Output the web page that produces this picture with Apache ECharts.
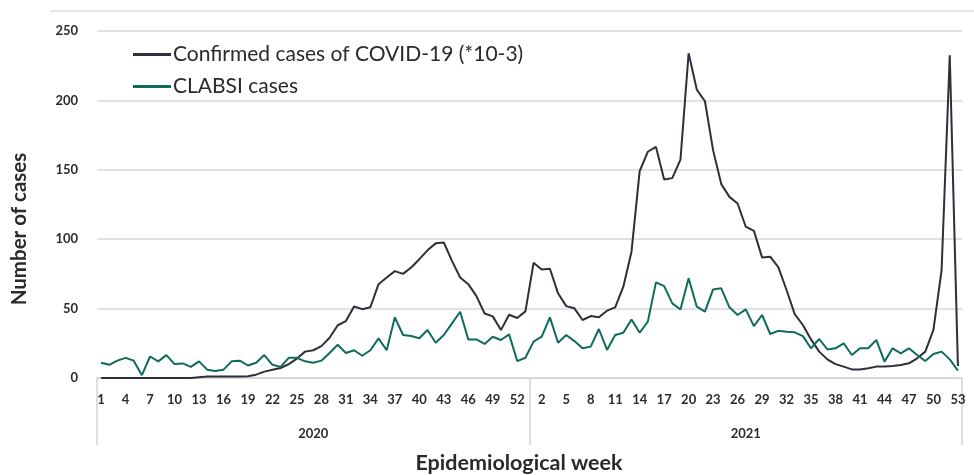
<!DOCTYPE html>
<html>
<head>
<meta charset="utf-8">
<script src="https://cdn.jsdelivr.net/npm/echarts@6/dist/echarts.min.js"></script>
<style>
html,body{margin:0;padding:0;background:#fff;}
#chart{width:974px;height:475px;}
</style>
</head>
<body>
<div id="chart"></div>
<script>
var years = ['2020', '2021'];
var weeks2020 = [1,2,3,4,5,6,7,8,9,10,11,12,13,14,15,16,17,18,19,20,21,22,23,24,25,26,27,28,29,30,31,32,33,34,35,36,37,38,39,40,41,42,43,44,45,46,47,48,49,50,51,52,53];
var weeks2021 = [1,2,3,4,5,6,7,8,9,10,11,12,13,14,15,16,17,18,19,20,21,22,23,24,25,26,27,28,29,30,31,32,33,34,35,36,37,38,39,40,41,42,43,44,45,46,47,48,49,50,51,52,53];

var confirmed2020 = [0,0,0,0,0,0,0,0,0,0,0,0,0.5,1,1,1,1,1,1.2,2.4,4.6,6,7.2,10,14,19,20,23,29,38,41,51.5,49.6,51,67.6,72.4,77,75,79.6,85.6,92,97,97.6,84.4,72.4,67.6,59,46.5,44.4,34.5,45.6,43.2,48];
var confirmed2021 = [83,78.2,78.7,61,51.8,50.2,41.8,44.6,43.7,48.5,50.9,65.8,91,149,163,166.5,143,144,157.4,234,207.8,199.4,164,139.7,130.5,125.7,109,106,86.9,87.4,79.7,63.4,46,38.2,27.8,19,13.4,10,8.2,6.2,6.2,7,8.2,8.2,8.6,9.4,10.6,14.2,19,34.6,77.8,232.5,8.6];

var clabsi2020 = [11,9.5,12.5,14.5,12.5,2,15.5,12,16.5,10,10.5,8,12,6,5,6,12,12.5,9,11,16.5,9.5,8,14.5,14.5,12,11,12.5,18,24,18,20,16,20,28.5,20,43.7,31,30.2,28.6,34.6,25.4,31,39.4,47.7,27.8,27.8,24.5,29.7,27.4,31.4,12.2,14.6];
var clabsi2021 = [26.2,29.8,43.7,25.4,31,26.6,21.4,22.6,35.3,20.2,31,32.6,42.2,32.6,40.6,68.9,66.2,53.8,49.4,71.8,51.4,47.8,63.8,64.6,50.9,45.4,49.4,37.4,45.4,31.7,34,33.4,32.9,30.2,21.4,28.1,20.6,21.4,25,16.6,21.4,21.4,27.4,11.8,21.4,17.8,21.4,16.6,12.2,17.3,19,13.4,5.3];

var yTicks = [0, 50, 100, 150, 200, 250];
var seriesNames = ['Confirmed cases of COVID-19 (*10-3)', 'CLABSI cases'];

var categories = weeks2020.map(function(w){return years[0] + '-' + w;})
  .concat(weeks2021.map(function(w){return years[1] + '-' + w;}));
var confirmed = confirmed2020.concat(confirmed2021);
var clabsi = clabsi2020.concat(clabsi2021);

var FONT = 'Lato, "Open Sans", sans-serif';
var chart = echarts.init(document.getElementById('chart'), null, {renderer: 'canvas'});
chart.setOption({
  animation: false,
  backgroundColor: '#ffffff',
  grid: {left: 97, right: 12, top: 31, bottom: 97, containLabel: false},
  legend: {
    orient: 'vertical', left: 128, top: 39, itemGap: 11,
    itemWidth: 38, itemHeight: 3, icon: 'rect',
    textStyle: {fontFamily: FONT, fontSize: 21, color: '#2a2a2a', padding: [0,0,0,-3]},
    data: seriesNames
  },
  xAxis: [{
    type: 'category', data: categories, boundaryGap: true,
    axisLine: {show: true, lineStyle: {color: '#d4d4d4', width: 1.5}},
    axisTick: {show: false},
    axisLabel: {
      interval: 2, margin: 15, fontFamily: FONT, fontSize: 13, fontWeight: 'bold', color: '#2b2b2b',
      formatter: function(v){return v.split('-')[1];}
    },
    splitLine: {show: false}
  }, {
    type: 'category', data: years, boundaryGap: true, position: 'bottom',
    axisLine: {show: false},
    axisTick: {show: true, length: 67, lineStyle: {color: '#d4d4d4', width: 1.5}},
    axisLabel: {margin: 49, fontFamily: FONT, fontSize: 13, fontWeight: 'bold', color: '#2b2b2b'},
    splitLine: {show: false}
  }],
  yAxis: {
    type: 'value', min: yTicks[0], max: yTicks[yTicks.length-1], interval: 50,
    axisLine: {show: false}, axisTick: {show: false},
    axisLabel: {margin: 19, fontFamily: FONT, fontSize: 13, fontWeight: 'bold', color: '#2b2b2b'},
    splitLine: {lineStyle: {color: '#d9d9d9', width: 1.5}}
  },
  series: [{
    name: seriesNames[0], type: 'line', data: confirmed, xAxisIndex: 0,
    showSymbol: false, symbol: 'none',
    lineStyle: {color: '#2e2e3c', width: 2}, itemStyle: {color: '#2e2e3c'}
  }, {
    name: seriesNames[1], type: 'line', data: clabsi, xAxisIndex: 0,
    showSymbol: false, symbol: 'none',
    lineStyle: {color: '#0f6b5b', width: 2}, itemStyle: {color: '#0f6b5b'}
  }],
  graphic: [{
    type: 'line', shape: {x1: 50, y1: 11, x2: 974, y2: 11},
    style: {stroke: '#dcdcdc', lineWidth: 1.5}
  }, {
    type: 'text', x: 19, y: 229, rotation: Math.PI/2,
    style: {text: 'Number of cases', fontFamily: FONT, fontSize: 20.5, fontWeight: 'bold',
      fill: '#2a2a2a', textAlign: 'center', textVerticalAlign: 'middle'}
  }, {
    type: 'text', x: 519, y: 463,
    style: {text: 'Epidemiological week', fontFamily: FONT, fontSize: 21.5, fontWeight: 'bold',
      fill: '#2a2a2a', textAlign: 'center', textVerticalAlign: 'middle'}
  }]
});
</script>
</body>
</html>
